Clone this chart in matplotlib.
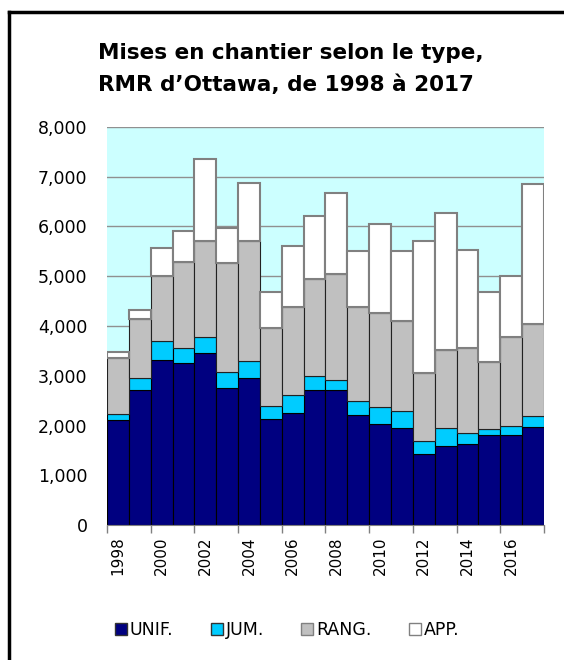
import numpy as np
import matplotlib
matplotlib.use('Agg')
import matplotlib.pyplot as plt
from matplotlib.lines import Line2D

years = list(range(1998, 2018))
unif = [2110, 2710, 3320, 3250, 3465, 2745, 2960, 2125, 2245, 2715,
        2715, 2220, 2030, 1950, 1430, 1590, 1620, 1815, 1815, 1970]
jum = [115, 250, 385, 315, 307, 337, 343, 273, 362, 280,
       193, 279, 335, 338, 258, 353, 236, 121, 182, 221]
rang = [1125, 1175, 1300, 1715, 1936, 2178, 2405, 1555, 1782, 1955,
        2137, 1883, 1890, 1812, 1361, 1575, 1695, 1334, 1775, 1849]
app = [120, 180, 570, 620, 1649, 703, 1160, 737, 1226, 1261,
       1622, 1132, 1788, 1407, 2666, 2747, 1977, 1420, 1239, 2808]
labels = ['UNIF.', 'JUM.', 'RANG.', 'APP.']

fig = plt.figure(figsize=(5.64, 6.6), dpi=100)
ax = fig.add_axes([0.1897, 0.2045, 0.7748, 0.6031])
ax.set_facecolor('#ccffff')

x = np.arange(len(years))
b1 = np.array(unif)
b2 = b1 + np.array(jum)
b3 = b2 + np.array(rang)
ax.bar(x, unif, width=1.0, color='#000080', edgecolor='black', linewidth=0.8, zorder=2)
ax.bar(x, jum, width=1.0, bottom=b1, color='#00ccff', edgecolor='black', linewidth=0.8, zorder=2)
ax.bar(x, rang, width=1.0, bottom=b2, color='#c0c0c0', edgecolor='#222222', linewidth=0.8, zorder=2)
ax.bar(x, app, width=1.0, bottom=b3, color='white', edgecolor='#808080', linewidth=1.5, zorder=3)

ax.set_xlim(-0.5, len(years) - 0.5)
ax.set_ylim(0, 8000)
ax.set_yticks(range(0, 8001, 1000))
ax.set_yticklabels([f'{v:,}' for v in range(0, 8001, 1000)], fontsize=12.5)
ax.tick_params(axis='y', length=0, pad=14)
ax.yaxis.grid(True, color='#909090', linewidth=1, zorder=1)
ax.set_axisbelow(True)

# year labels every second bar, tick marks at bar boundaries
ax.set_xticks(x[::2])
ax.set_xticklabels([str(y) for y in years[::2]], rotation=90, fontsize=11)
ax.tick_params(axis='x', length=0, pad=8)
ax.set_xticks(np.arange(-0.5, len(years), 2), minor=True)
ax.tick_params(axis='x', which='minor', length=6, color='#808080', width=1)

for s in ['top', 'right']:
    ax.spines[s].set_visible(False)
ax.spines['left'].set_visible(False)
ax.spines['bottom'].set_color('#808080')

fig.text(0.174, 0.895, 'Mises en chantier selon le type,\nRMR d\u2019Ottawa, de 1998 \u00e0 2017',
         fontsize=15.5, fontweight='bold', ha='left', va='center', linespacing=1.7)

handles = [
    Line2D([], [], marker='s', linestyle='none', markersize=8, markerfacecolor='#000080', markeredgecolor='#333333'),
    Line2D([], [], marker='s', linestyle='none', markersize=8, markerfacecolor='#00ccff', markeredgecolor='#333333'),
    Line2D([], [], marker='s', linestyle='none', markersize=8, markerfacecolor='#c0c0c0', markeredgecolor='#808080'),
    Line2D([], [], marker='s', linestyle='none', markersize=8, markerfacecolor='white', markeredgecolor='#808080'),
]
fig.legend(handles, labels, loc='center', bbox_to_anchor=(0.51, 0.045), ncol=4,
           frameon=False, fontsize=12.5, handlelength=0.6, handletextpad=0.2, columnspacing=2.2)

# outer frame (left and top edges visible)
fig.add_artist(Line2D([9 / 564, 9 / 564], [0, 1 - 12 / 660], color='black', linewidth=2.5, transform=fig.transFigure))
fig.add_artist(Line2D([9 / 564, 1], [1 - 12 / 660, 1 - 12 / 660], color='black', linewidth=2.5, transform=fig.transFigure))

fig.savefig('out.png', dpi=100)
